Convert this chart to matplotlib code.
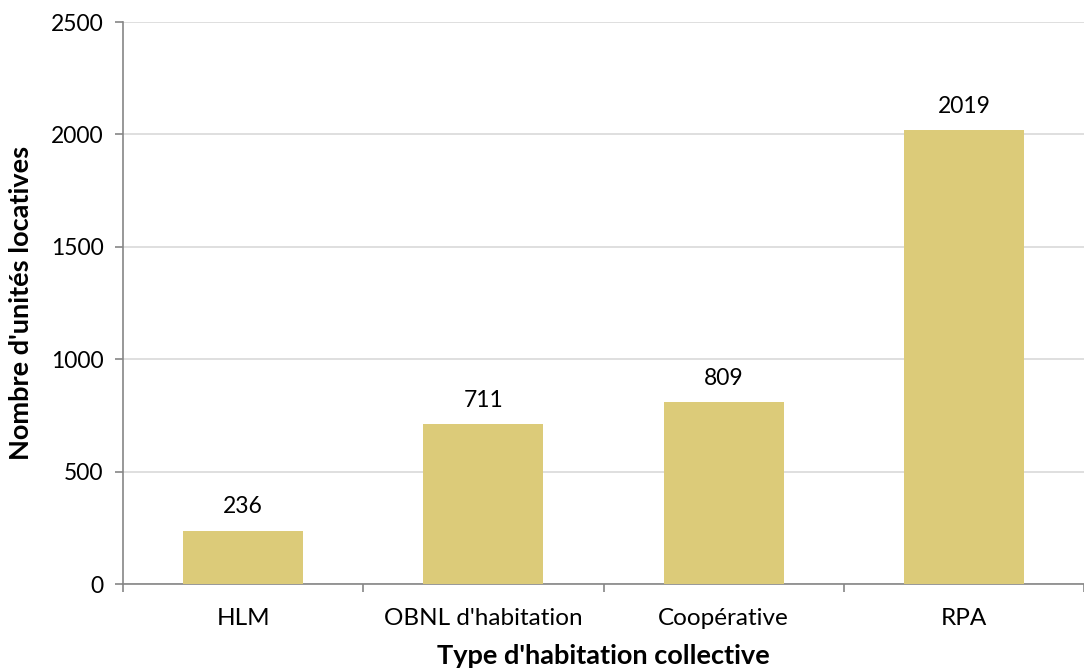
import matplotlib.pyplot as plt

categories = ["HLM", "OBNL d'habitation", "Coopérative", "RPA"]
units = [236, 711, 809, 2019]

plt.rcParams["font.family"] = ["Lato", "DejaVu Sans"]

fig = plt.figure(figsize=(10.84, 6.68), dpi=100)
ax = fig.add_axes([0.1135, 0.1257, 0.8865, 0.8413])

x = range(len(categories))
ax.bar(x, units, width=0.5, color="#DCCB79", zorder=3)
for i, v in enumerate(units):
    ax.text(i, v + 60, str(v), ha="center", va="bottom", fontsize=16.5)

ax.set_xlim(-0.5, len(categories) - 0.5)
ax.set_ylim(0, 2500)
ax.set_yticks(range(0, 2501, 500))
ax.set_xticks(list(x))
ax.set_xticklabels(categories, fontsize=17.5)
ax.tick_params(axis="y", labelsize=16.5, length=6, color="#868686", width=1.2, pad=8)
ax.tick_params(axis="x", length=0, pad=17)
ax.set_xticks([i + 0.5 for i in range(-1, len(categories) - 1)] + [len(categories) - 0.5], minor=True)
ax.tick_params(axis="x", which="minor", length=6, color="#868686", width=1.2)

ax.grid(axis="y", color="#D9D9D9", linewidth=1.2, zorder=0)
for s in ["top", "right"]:
    ax.spines[s].set_visible(False)
for s in ["left", "bottom"]:
    ax.spines[s].set_color("#868686")
    ax.spines[s].set_linewidth(1.2)

ax.set_xlabel("Type d'habitation collective", fontsize=19.5, fontweight="bold", labelpad=11)
ax.set_ylabel("Nombre d'unités locatives", fontsize=19.5, fontweight="bold", labelpad=13)

fig.savefig("out.png", dpi=100)
